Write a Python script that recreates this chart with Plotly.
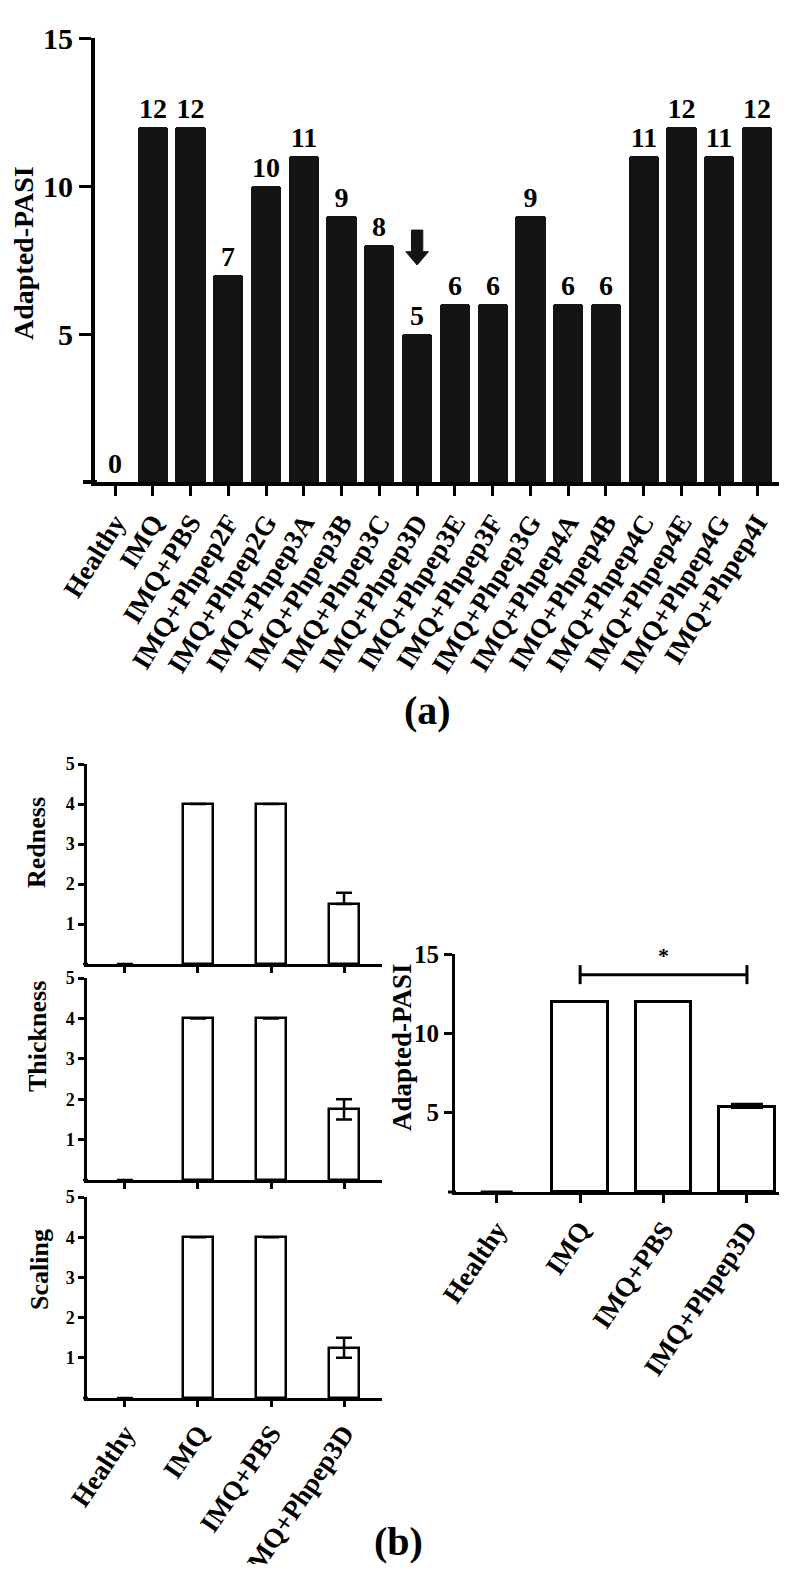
import plotly.graph_objects as go

# The page body has an 8px margin; the figure is sized to fit the window exactly.
OFF = 8
W, H = 787 - 2 * OFF, 1574 - 2 * OFF - 2
FONT = "Liberation Serif"

# ---------------- data ----------------
cats_a = ["Healthy", "IMQ", "IMQ+PBS", "IMQ+Phpep2F", "IMQ+Phpep2G", "IMQ+Phpep3A",
          "IMQ+Phpep3B", "IMQ+Phpep3C", "IMQ+Phpep3D", "IMQ+Phpep3E", "IMQ+Phpep3F",
          "IMQ+Phpep3G", "IMQ+Phpep4A", "IMQ+Phpep4B", "IMQ+Phpep4C", "IMQ+Phpep4E",
          "IMQ+Phpep4G", "IMQ+Phpep4I"]
pasi_a = [0, 12, 12, 7, 10, 11, 9, 8, 5, 6, 6, 9, 6, 6, 11, 12, 11, 12]
yticks_a = [5, 10, 15]
highlight = "IMQ+Phpep3D"

cats_b = ["Healthy", "IMQ", "IMQ+PBS", "IMQ+Phpep3D"]
redness = [0, 4, 4, 1.5]
redness_err_up = [0, 0, 0, 0.28]
redness_err_down = [0, 0, 0, 0]
thickness = [0, 4, 4, 1.75]
thickness_err = [0, 0, 0, 0.25]
scaling = [0, 4, 4, 1.25]
scaling_err = [0, 0, 0, 0.25]
yticks_small = [1, 2, 3, 4, 5]
pasi_b = [0, 12, 12, 5.33]
pasi_b_err_up = [0, 0, 0, 0.2]
pasi_b_err_down = [0, 0, 0, 0]
yticks_b = [5, 10, 15]
sig_pair = ("IMQ", "IMQ+Phpep3D")
sig_text = "*"


# ---------------- helpers ----------------
def px(x):
    return min(1.0, max(0.0, (x - OFF) / W))


def py(y):
    return min(1.0, max(0.0, 1 - (y - OFF) / H))


def bfont(size):
    return dict(family=FONT, size=size, color="black", weight="bold")


def err_up(up):
    return [u if u else None for u in up]


def err_down(up, down):
    return [d if d else (0 if u else None) for u, d in zip(up, down)]


def outline(vals, w):
    return [w if v else 0 for v in vals]


fig = go.Figure()

xa = list(range(len(cats_a)))
xb = list(range(len(cats_b)))

# panel (a)
fig.add_trace(go.Bar(
    x=xa, y=pasi_a, xaxis="x", yaxis="y", width=0.8,
    marker=dict(color="#141414", line=dict(width=0), cornerradius=3),
    text=[str(v) for v in pasi_a], textposition="outside",
    textfont=bfont(28), constraintext="none", cliponaxis=False,
    showlegend=False))

# panel (b) small plots
small = [(redness, redness_err_up, redness_err_down, "2"),
         (thickness, thickness_err, thickness_err, "3"),
         (scaling, scaling_err, scaling_err, "4")]
for vals, eu, ed, n in small:
    fig.add_trace(go.Bar(
        x=xb, y=vals, xaxis="x" + n, yaxis="y" + n, width=0.4,
        marker=dict(color="white", line=dict(color="black", width=outline(vals, 2.5))),
        error_y=dict(type="data", array=err_up(eu), arrayminus=err_down(eu, ed),
                     symmetric=False, color="black", thickness=2.5, width=8, visible=True),
        cliponaxis=False, showlegend=False))

fig.add_trace(go.Bar(
    x=xb, y=pasi_b, xaxis="x5", yaxis="y5", width=0.67,
    marker=dict(color="white", line=dict(color="black", width=outline(pasi_b, 3))),
    error_y=dict(type="data", array=err_up(pasi_b_err_up),
                 arrayminus=err_down(pasi_b_err_up, pasi_b_err_down),
                 symmetric=False, color="black", thickness=3, width=16, visible=True),
    cliponaxis=False, showlegend=False))

axis_common = dict(showline=True, linecolor="black", showgrid=False, zeroline=False,
                   ticks="outside", tickcolor="black", fixedrange=True, automargin=False)

layout = dict(
    width=W, height=H, margin=dict(l=0, r=0, t=0, b=0, pad=0, autoexpand=False),
    paper_bgcolor="white", plot_bgcolor="white", bargap=0,
    font=dict(family=FONT, color="black"),
    xaxis=dict(axis_common, domain=[px(95), px(787)], anchor="y",
               range=[-0.53, 17 + (779 - 757) / 37.76], tickvals=xa, ticktext=cats_a,
               tickangle=-58, tickfont=bfont(27), linewidth=4, ticklen=10, tickwidth=3),
    yaxis=dict(axis_common, domain=[py(482), py(38)], anchor="x", range=[0, 15],
               tickvals=yticks_a, tickfont=bfont(30), linewidth=4, ticklen=12, tickwidth=3),
)

small_dom = {"2": (964, 764), "3": (1180, 978), "4": (1398, 1197)}
for n, (b, t) in small_dom.items():
    layout["xaxis" + n] = dict(axis_common, domain=[px(87), px(382)], anchor="y" + n,
                               range=[-0.52, 3.52], tickvals=xb,
                               ticktext=cats_b, showticklabels=(n == "4"),
                               tickangle=-56, tickfont=bfont(27),
                               linewidth=2.5, ticklen=6, tickwidth=2.5)
    layout["yaxis" + n] = dict(axis_common, domain=[py(b), py(t)], anchor="x" + n,
                               range=[0, 5], tickvals=yticks_small, tickfont=bfont(18),
                               linewidth=2.5, ticklen=6, tickwidth=2.5)

layout["xaxis5"] = dict(axis_common, domain=[px(455), px(787)], anchor="y5",
                        range=[-0.5, 3 + (779 - 747) / 83.3], tickvals=xb, ticktext=cats_b,
                        tickangle=-56, tickfont=bfont(27),
                        linewidth=3, ticklen=8, tickwidth=2.5)
layout["yaxis5"] = dict(axis_common, domain=[py(1192), py(954)], anchor="x5",
                        range=[0, 15], tickvals=yticks_b, tickfont=bfont(25),
                        linewidth=3, ticklen=8, tickwidth=2.5)
fig.update_layout(**layout)

shapes = []
# baseline extensions to the left of the y axes
for x0, x1, y, w in [(83, 97, 482, 4), (83, 88, 964, 2.5), (83, 88, 1180, 2.5),
                     (83, 88, 1398, 2.5), (448, 456, 1192, 3)]:
    shapes.append(dict(type="line", xref="paper", yref="paper", x0=px(x0), x1=px(x1),
                       y0=py(y), y1=py(y), line=dict(color="black", width=w)))

# arrow over highlighted bar in (a)
hi = cats_a.index(highlight)
hv = pasi_a[hi]
tip = hv + 2.33
neck = tip + 0.45
top = tip + 1.18
sw, hw = 0.15, 0.3
path = (f"M {hi - sw},{top} L {hi + sw},{top} L {hi + sw},{neck} L {hi + hw},{neck} "
        f"L {hi},{tip} L {hi - hw},{neck} L {hi - sw},{neck} Z")
shapes.append(dict(type="path", xref="x", yref="y", path=path,
                   fillcolor="#141414", line=dict(color="#141414", width=1)))

# significance bracket in right plot
i0, i1 = cats_b.index(sig_pair[0]), cats_b.index(sig_pair[1])
yb = max(pasi_b) + 1.7
for s in [dict(x0=i0, x1=i1, y0=yb, y1=yb),
          dict(x0=i0, x1=i0, y0=yb - 0.6, y1=yb + 0.6),
          dict(x0=i1, x1=i1, y0=yb - 0.6, y1=yb + 0.6)]:
    shapes.append(dict(type="line", xref="x5", yref="y5", line=dict(color="black", width=3), **s))
fig.update_layout(shapes=shapes)


def ann(text, x, y, size, angle=0, xref="paper", yref="paper"):
    return dict(text=text, x=x, y=y, xref=xref, yref=yref, textangle=angle,
                xanchor="center", yanchor="middle", showarrow=False, font=bfont(size))


annotations = [
    ann("Adapted-PASI", px(24), py(253), 28, -90),
    ann("Redness", px(36), py(843), 26, -90),
    ann("Thickness", px(37), py(1037), 26, -90),
    ann("Scaling", px(39), py(1270), 26, -90),
    ann("Adapted-PASI", px(402), py(1047), 27, -90),
    ann(sig_text, (i0 + i1) / 2, yb + 1.2, 22, 0, "x5", "y5"),
    ann("(a)", px(428), py(711), 40),
    ann("(b)", px(398), py(1541), 40),
]
fig.update_layout(annotations=annotations)

fig.write_html("out.html")
